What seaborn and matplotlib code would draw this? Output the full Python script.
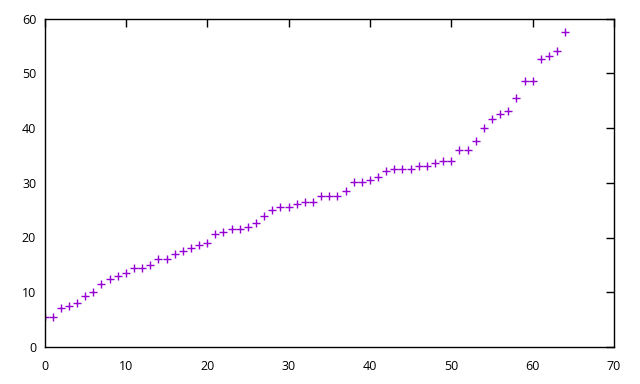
import matplotlib
matplotlib.use("Agg")
import matplotlib.pyplot as plt
import seaborn as sns
import pandas as pd

x_values = list(range(65))
y_values = [5.4, 5.4, 7.1, 7.4, 8.1, 9.4, 10.0, 11.5, 12.5, 13.0,
            13.5, 14.5, 14.5, 15.0, 16.0, 16.0, 17.0, 17.5, 18.0, 18.6,
            19.0, 20.6, 21.0, 21.5, 21.5, 22.0, 22.6, 24.0, 25.0, 25.5,
            25.5, 26.1, 26.4, 26.4, 27.5, 27.5, 27.5, 28.5, 30.1, 30.1,
            30.5, 31.0, 32.1, 32.5, 32.5, 32.5, 33.0, 33.0, 33.6, 34.0,
            34.0, 35.9, 35.9, 37.6, 40.0, 41.6, 42.5, 43.1, 45.4, 48.6,
            48.6, 52.6, 53.1, 54.0, 57.5]
x_ticks = [0, 10, 20, 30, 40, 50, 60, 70]
y_ticks = [0, 10, 20, 30, 40, 50, 60]

df = pd.DataFrame({"x": x_values, "y": y_values})

sns.set_style("white")
plt.rcParams['font.family'] = ['Open Sans', 'DejaVu Sans']

fig = plt.figure(figsize=(6.4, 3.84), dpi=100)
ax = fig.add_axes([44.5 / 640, 1 - 347 / 384, (614 - 44.5) / 640, (347 - 18.5) / 384])

sns.scatterplot(data=df, x="x", y="y", marker="+", s=36, color="#9400D3",
                linewidth=1.0, ax=ax, legend=False)

ax.set_xlim(0, 70)
ax.set_ylim(0, 60)
ax.set_xticks(x_ticks)
ax.set_yticks(y_ticks)
ax.set_xlabel("")
ax.set_ylabel("")
for sp in ax.spines.values():
    sp.set_visible(True)
    sp.set_color("black")
    sp.set_linewidth(1.0)
ax.tick_params(direction="in", length=6, width=1, color="black",
               top=True, right=True, labelsize=9, labelcolor="black")
ax.tick_params(axis="x", pad=9)
ax.tick_params(axis="y", pad=6)

fig.savefig("out.png", dpi=100)
